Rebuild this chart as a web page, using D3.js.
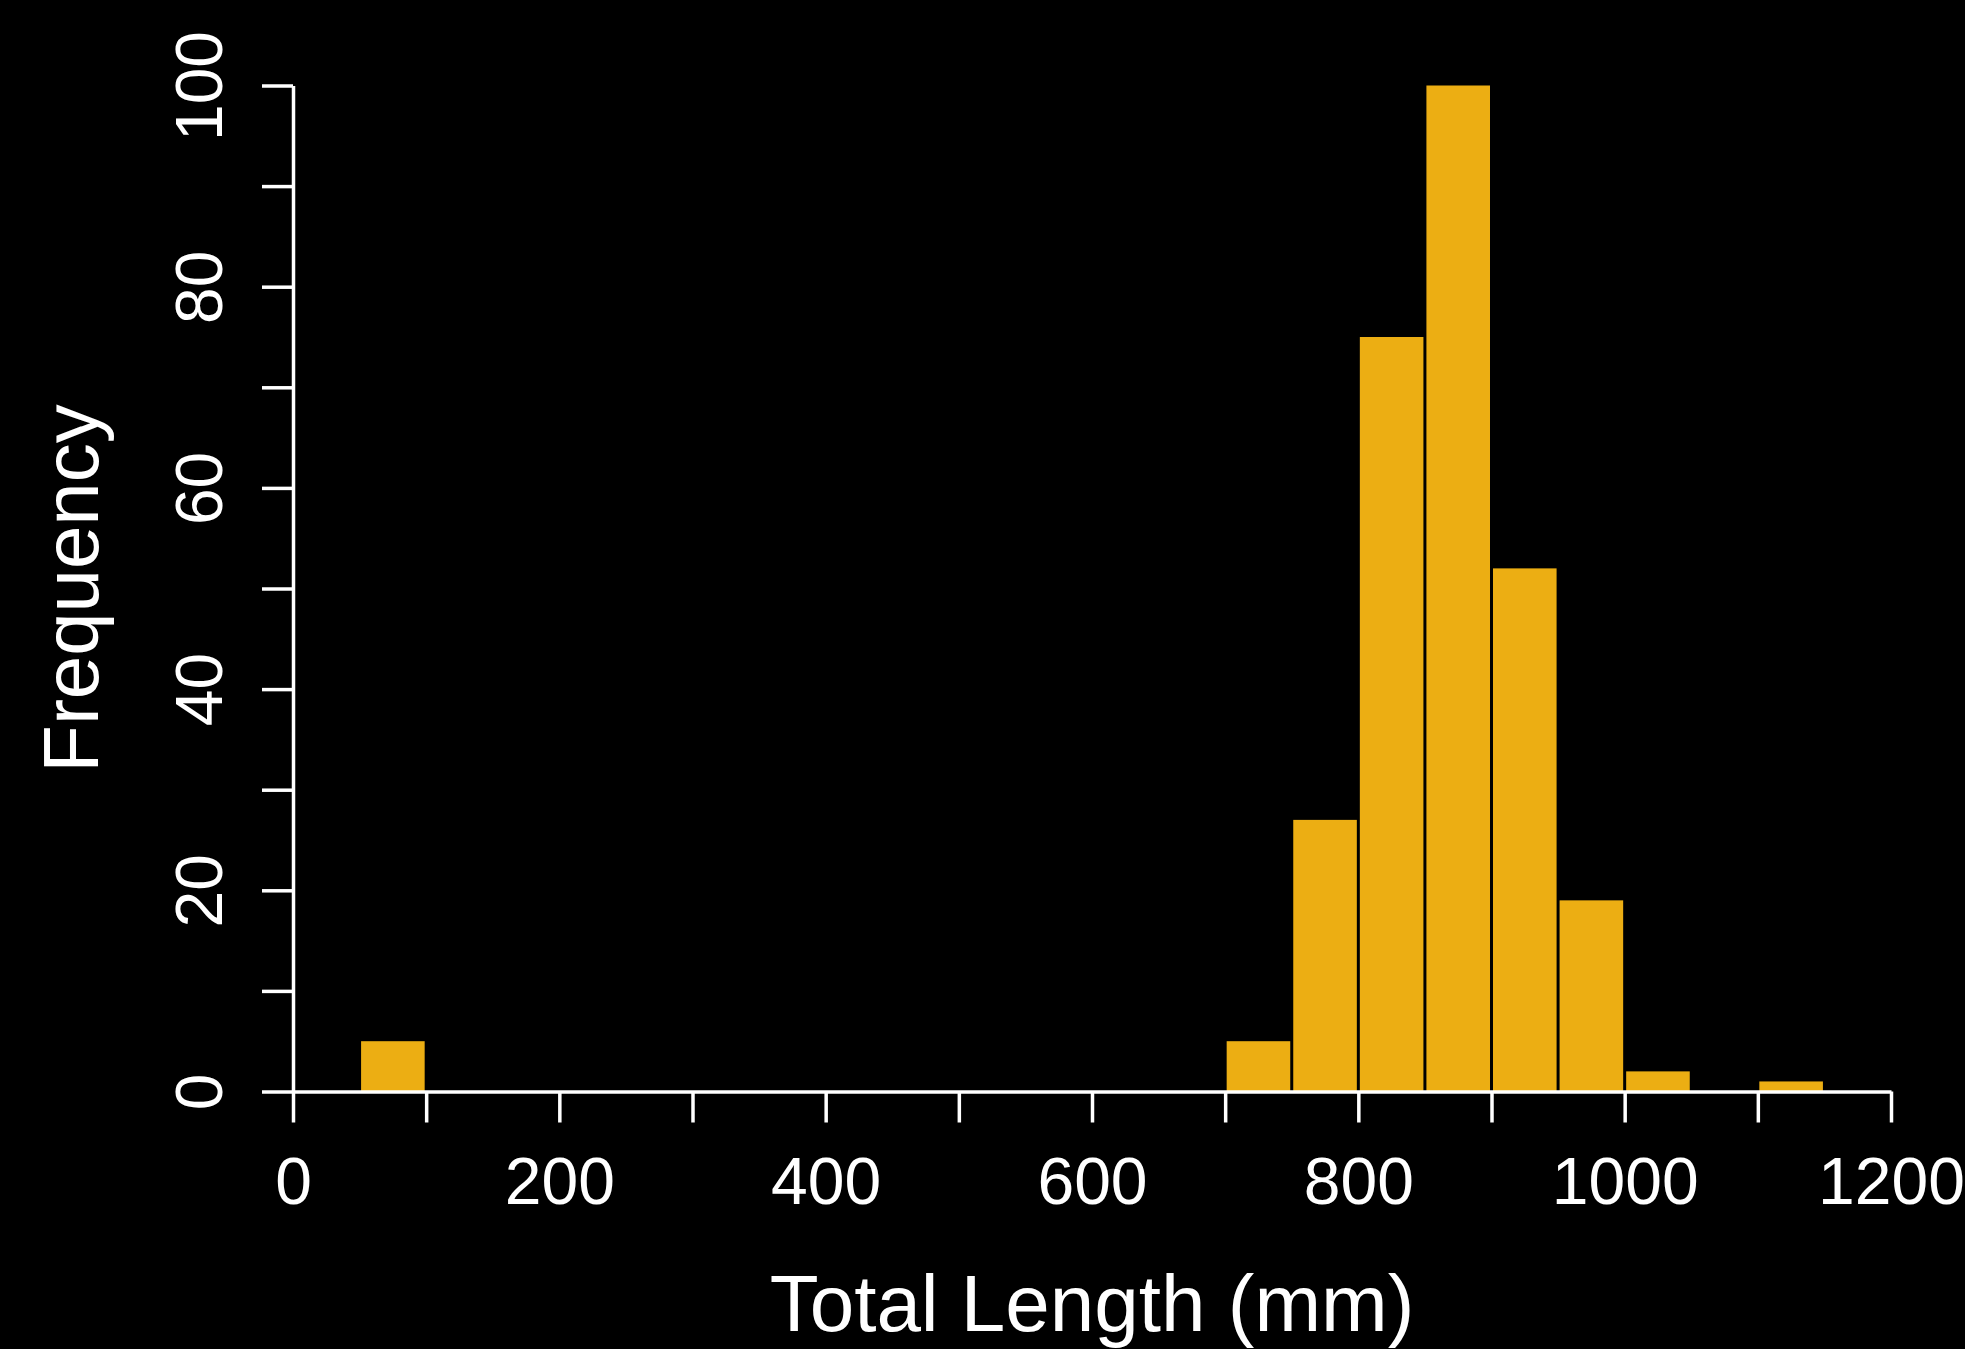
<!DOCTYPE html>
<html>
<head>
<meta charset="utf-8">
<script src="https://cdn.jsdelivr.net/npm/d3@7"></script>
<style>
  html, body { margin: 0; padding: 0; background: #000; }
  svg { display: block; }
  text { font-family: 'Liberation Sans', Arial, sans-serif; fill: #fff; }
</style>
</head>
<body>
<svg id="chart" width="1965" height="1349"></svg>
<script>
// histogram bins (lower edge, mm) and counts
const binStarts = [50, 700, 750, 800, 850, 900, 950, 1000, 1100]
const counts = [5, 5, 27, 75, 100, 52, 19, 2, 1]
const binWidth = 50

const xTicks = d3.range(0, 1201, 100)
const yTicks = d3.range(0, 101, 10)
const xLabelEvery = 200
const yLabelEvery = 20

const width = 1965
const height = 1349

const x = d3.scaleLinear().domain([0, 1200]).range([293, 1891])
const y = d3.scaleLinear().domain([0, 100]).range([1091.5, 85.5])

const svg = d3.select('#chart')

svg.append('rect')
  .attr('width', width)
  .attr('height', height)
  .attr('fill', '#000')

const bins = binStarts.map((b, i) => ({ x0: b, x1: b + binWidth, n: counts[i] }))

// bars, with a thin black gap between neighbours
svg.append('g')
  .selectAll('rect')
  .data(bins)
  .join('rect')
  .attr('x', d => x(d.x0) + 1.5)
  .attr('y', d => y(d.n))
  .attr('width', d => x(d.x1) - x(d.x0) - 3)
  .attr('height', d => y(0) - y(d.n))
  .attr('fill', '#ECAE13')

// x axis
const xAxis = svg.append('g')
  .attr('transform', `translate(0,${y(0)})`)
  .call(d3.axisBottom(x)
    .tickValues(xTicks)
    .tickSize(31)
    .tickSizeOuter(0)
    .tickFormat(d => d % xLabelEvery === 0 ? d : ''))

xAxis.select('.domain').attr('stroke', '#fff').attr('stroke-width', 3.5)
xAxis.selectAll('.tick line').attr('stroke', '#fff').attr('stroke-width', 3.5)
xAxis.selectAll('.tick text')
  .attr('dy', null)
  .attr('y', 112.5)
  .attr('fill', '#fff')
  .style('font-size', '66px')
  .style('font-family', "'Liberation Sans', Arial, sans-serif")

// y axis
const yAxis = svg.append('g')
  .attr('transform', `translate(${x(0)},0)`)
  .call(d3.axisLeft(y)
    .tickValues(yTicks)
    .tickSize(31)
    .tickSizeOuter(0)
    .tickFormat(d => d % yLabelEvery === 0 ? d : ''))

yAxis.select('.domain').attr('stroke', '#fff').attr('stroke-width', 3.5)
yAxis.selectAll('.tick line').attr('stroke', '#fff').attr('stroke-width', 3.5)
yAxis.selectAll('.tick text')
  .attr('dy', null)
  .attr('x', 0)
  .attr('y', -71)
  .attr('transform', 'rotate(-90)')
  .attr('text-anchor', 'middle')
  .attr('fill', '#fff')
  .style('font-size', '66px')
  .style('font-family', "'Liberation Sans', Arial, sans-serif")

// axis titles
svg.append('text')
  .attr('x', (x(0) + x(1200)) / 2)
  .attr('y', 1331)
  .attr('text-anchor', 'middle')
  .style('font-size', '80px')
  .text('Total Length (mm)')

svg.append('text')
  .attr('transform', `translate(98,${(y(0) + y(100)) / 2}) rotate(-90)`)
  .attr('text-anchor', 'middle')
  .style('font-size', '78px')
  .text('Frequency')
</script>
</body>
</html>
